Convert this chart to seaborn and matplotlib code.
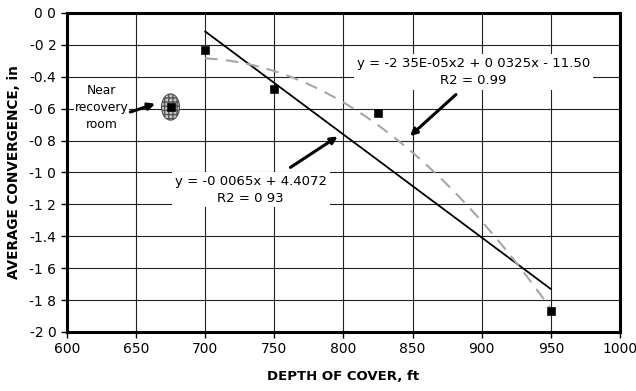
import matplotlib
matplotlib.use("Agg")
import matplotlib.pyplot as plt
import pandas as pd
import seaborn as sns
from matplotlib.patches import Ellipse

# field measurements
depth_ft = [700, 750, 825, 950]
convergence_in = [-0.23, -0.48, -0.63, -1.87]
recovery_depth = [675]
recovery_conv = [-0.59]

x_ticks = [600, 650, 700, 750, 800, 850, 900, 950, 1000]
y_ticks = [0.0, -0.2, -0.4, -0.6, -0.8, -1.0, -1.2, -1.4, -1.6, -1.8, -2.0]
y_tick_labels = ["0 0", "-0 2", "-0.4", "-0 6", "-0 8", "-1 0",
                 "-1 2", "-1.4", "-1 6", "-1 8", "-2 0"]

lin_label = "y = -0 0065x + 4.4072\nR2 = 0 93"
quad_label = "y = -2 35E-05x2 + 0 0325x - 11.50\nR2 = 0.99"

sns.set_style("white")
# the scanned original is a bit stretched sideways, DejaVu's wider glyphs fit it better
plt.rcParams["font.family"] = ["DejaVu Sans"]
plt.rcParams["text.color"] = "black"
plt.rcParams["axes.labelcolor"] = "black"

df = pd.DataFrame({"depth": depth_ft, "conv": convergence_in})

fig = plt.figure(figsize=(6.36, 3.91), dpi=100)
ax = fig.add_axes([0.105, 0.151, 0.870, 0.816])

ax.set_xlim(600, 1000)
ax.set_ylim(-2.0, 0.0)
ax.set_xticks(x_ticks)
ax.set_yticks(y_ticks)
ax.set_yticklabels(y_tick_labels)
ax.grid(True, color="#222222", lw=0.8)
ax.set_axisbelow(True)

sns.regplot(data=df, x="depth", y="conv", order=1, ci=None, truncate=True,
            scatter=False, ax=ax, line_kws=dict(color="black", lw=1.3, zorder=4))
sns.regplot(data=df, x="depth", y="conv", order=2, ci=None, truncate=True,
            scatter=False, ax=ax,
            line_kws=dict(color="#a6a6a6", lw=1.5, ls=(0, (6, 4)), zorder=4))

ell = Ellipse((675, -0.59), 13, 0.165, facecolor="#c8c8c8", edgecolor="#555555",
              hatch="++++", lw=0.8, zorder=5)
ax.add_patch(ell)

sns.scatterplot(x=depth_ft, y=convergence_in, marker="s", s=32, color="black",
                edgecolor="black", ax=ax, zorder=6)
sns.scatterplot(x=recovery_depth, y=recovery_conv, marker="s", s=32, color="black",
                edgecolor="black", ax=ax, zorder=6)

box = dict(facecolor="white", edgecolor="none", pad=2)
ax.text(733, -1.107, lin_label, ha="center", va="center", fontsize=9.5,
        linespacing=1.4, bbox=box, zorder=3)
ax.text(894, -0.37, quad_label, ha="center", va="center", fontsize=9.5,
        linespacing=1.4, bbox=box, zorder=3)
ax.text(625, -0.595, "Near\nrecovery\nroom", ha="center", va="center", fontsize=8.8,
        linespacing=1.4, bbox=dict(facecolor="white", edgecolor="none", pad=0.5),
        zorder=3)

arrow = dict(arrowstyle="-|>", color="black", lw=2.2, mutation_scale=10)
ax.annotate("", xy=(797.5, -0.765), xytext=(760, -0.978), arrowprops=arrow, zorder=7)
ax.annotate("", xy=(846.6, -0.784), xytext=(882.8, -0.50), arrowprops=arrow, zorder=7)
ax.annotate("", xy=(665.8, -0.564), xytext=(644, -0.627), arrowprops=arrow, zorder=7)

for side in ["left", "bottom", "right", "top"]:
    ax.spines[side].set_visible(True)
    ax.spines[side].set_color("black")
    ax.spines[side].set_linewidth(2.2)
ax.tick_params(axis="both", direction="out", length=4, width=1, colors="black",
               labelsize=10, left=True, bottom=True)

ax.set_xlabel("DEPTH OF COVER, ft", fontsize=9.5, fontweight="bold", labelpad=10)
ax.set_ylabel("AVERAGE CONVERGENCE, in", fontsize=9.8, fontweight="bold", labelpad=6)

fig.savefig("out.png", dpi=100)
